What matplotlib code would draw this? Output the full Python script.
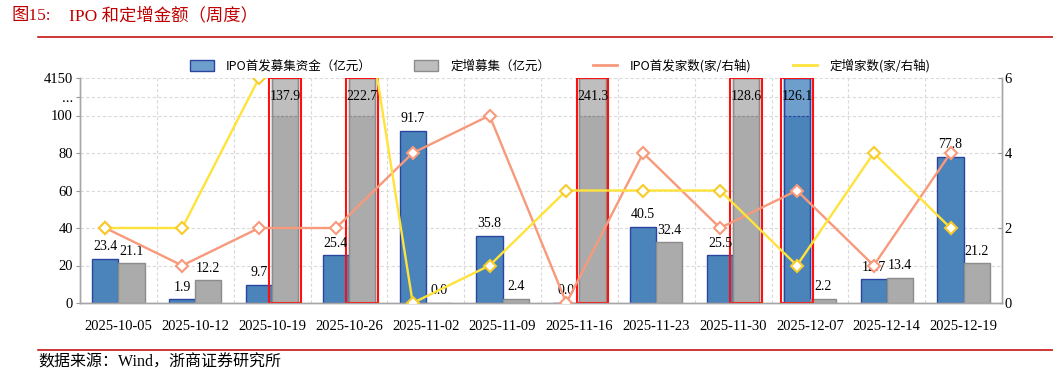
import matplotlib
matplotlib.use('Agg')
import matplotlib.pyplot as plt
from matplotlib.lines import Line2D
from matplotlib.patches import Patch
import numpy as np

plt.rcParams['font.family'] = ['Liberation Serif', 'Noto Sans CJK SC', 'DejaVu Sans']

# weekly data
dates = ['2025-10-05', '2025-10-12', '2025-10-19', '2025-10-26', '2025-11-02', '2025-11-09',
         '2025-11-16', '2025-11-23', '2025-11-30', '2025-12-07', '2025-12-14', '2025-12-19']
ipo_amount = [23.4, 1.9, 9.7, 25.4, 91.7, 35.8, 0.0, 40.5, 25.5, 126.1, 12.7, 77.8]
placement_amount = [21.1, 12.2, 137.9, 222.7, 0.0, 2.4, 241.3, 32.4, 128.6, 2.2, 13.4, 21.2]
ipo_count = [2, 1, 2, 2, 4, 5, 0, 4, 2, 3, 1, 4]
placement_count = [2, 2, 6, 13, 0, 1, 3, 3, 3, 1, 4, 2]

left_ticks = [0, 20, 40, 60, 80, 100, 110, 120]
left_labels = ['0', '20', '40', '60', '80', '100', '...', '4150']
right_ticks = [0, 2, 4, 6]

legend_names = ['IPO首发募集资金（亿元）', '定增募集（亿元）', 'IPO首发家数(家/右轴)', '定增家数(家/右轴)']

BREAK = 100   # axis is linear up to here, then compressed
TOP = 120

BLUE, BLUE_LIGHT, BLUE_EDGE = '#4A84BA', '#6E9FCC', '#2B44A0'
GRAY, GRAY_LIGHT, GRAY_EDGE = '#ABABAB', '#BEBEBE', '#8C8C8C'
SALMON = '#F8997B'
YELLOW = '#FFE23A'
RED = '#C00000'

fig = plt.figure(figsize=(10.53, 3.75), dpi=100)
ax = fig.add_axes([0.076, 0.192, 0.8756, 0.6])
ax2 = ax.twinx()

x = np.arange(len(dates))
w = 0.34


def draw_bars(pos, vals, color, light, edge):
    vals = np.asarray(vals, dtype=float)
    big = vals > BREAK
    # broken bars: full-height light bar, normal colour up to the break, dashed break line, red frame
    ax.bar(pos[big], TOP, w, color=light, edgecolor=edge, lw=1, zorder=2)
    ax.bar(pos[big], BREAK, w, color=color, lw=0, zorder=2)
    ax.bar(pos[big], TOP, w, fill=False, edgecolor=edge, lw=1, zorder=2)
    ax.hlines(np.full(big.sum(), BREAK), pos[big] - w / 2, pos[big] + w / 2, colors=edge,
              linestyles=(0, (2, 1.5)), lw=0.9, zorder=3)
    ax.bar(pos[big], TOP, w + 0.07, fill=False, edgecolor='#FF1010', lw=1.5, zorder=3)
    ax.bar(pos[~big], vals[~big], w, color=color, edgecolor=edge, lw=1, zorder=2)
    for p, v in zip(pos, vals):
        if v > BREAK:
            ax.text(p, (BREAK + TOP) / 2, '%.1f' % v, ha='center', va='center', fontsize=10, zorder=4)
        else:
            ax.text(p, v + 3, '%.1f' % v, ha='center', va='bottom', fontsize=10, zorder=4)


draw_bars(x - w / 2, ipo_amount, BLUE, BLUE_LIGHT, BLUE_EDGE)
draw_bars(x + w / 2, placement_amount, GRAY, GRAY_LIGHT, GRAY_EDGE)

ax.set_xlim(-0.5, len(dates) - 0.5)
ax.set_ylim(0, TOP)
ax.set_yticks(left_ticks)
ax.set_yticklabels(left_labels)
ax.set_xticks(x)
ax.set_xticklabels(dates)
ax.set_xticks(x[:-1] + 0.5, minor=True)
ax.tick_params(axis='x', which='both', length=0, pad=12, labelsize=10.5)
ax.tick_params(axis='y', length=3, color='#999999', labelsize=10.5, pad=2)
ax.grid(axis='y', color='#DADADA', ls=(0, (3, 2)), lw=0.8, zorder=0)
ax.grid(axis='x', which='minor', color='#DADADA', ls=(0, (3, 2)), lw=0.8, zorder=0)
ax.set_axisbelow(True)

# count lines sit on the blue bar positions
ax2.plot(x - w / 2, ipo_count, color=SALMON, lw=1.7, marker='D', ms=6.5, mfc='white',
         mec=SALMON, mew=1.5, zorder=5)
ax2.plot(x - w / 2, placement_count, color=YELLOW, lw=1.7, marker='D', ms=6.5, mfc='white',
         mec='#F7CB2A', mew=1.5, zorder=5)
ax2.set_ylim(0, 6)
ax2.set_yticks(right_ticks)
ax2.tick_params(axis='y', direction='in', length=3, color='#999999', labelsize=10.5, pad=2)

for a in (ax, ax2):
    a.spines['top'].set_visible(False)
    for s in ('left', 'right', 'bottom'):
        a.spines[s].set_color('#A6A6A6')
        a.spines[s].set_linewidth(1.0)

handles = [Patch(facecolor=BLUE_LIGHT, edgecolor=BLUE_EDGE, lw=1),
           Patch(facecolor=GRAY_LIGHT, edgecolor=GRAY_EDGE, lw=1),
           Line2D([], [], color=SALMON, lw=2),
           Line2D([], [], color=YELLOW, lw=2)]
fig.legend(handles, legend_names, loc='center', bbox_to_anchor=(0.532, 0.824), ncol=4,
           frameon=False, prop={'family': ['Noto Sans CJK SC'], 'size': 9},
           handlelength=1.9, handleheight=0.9, columnspacing=3.4, handletextpad=1.0)

# header and footer
fig.text(0.011, 0.957, '图15:', color=RED, fontsize=12.5, va='center',
         family=['Liberation Serif', 'Noto Sans CJK SC'])
fig.text(0.066, 0.957, 'IPO 和定增金额（周度）', color=RED, fontsize=12.5, va='center',
         family=['Liberation Serif', 'Noto Sans CJK SC'])
fig.add_artist(Line2D([0.036, 1.0], [0.901, 0.901], transform=fig.transFigure, color=RED, lw=1.1))
fig.add_artist(Line2D([0.036, 1.0], [0.067, 0.067], transform=fig.transFigure, color=RED, lw=1.1))
fig.text(0.036, 0.034, '数据来源：Wind，浙商证券研究所', fontsize=11.5, va='center',
         family=['Liberation Serif', 'Noto Sans CJK SC'])

fig.savefig('out.png', dpi=100)
